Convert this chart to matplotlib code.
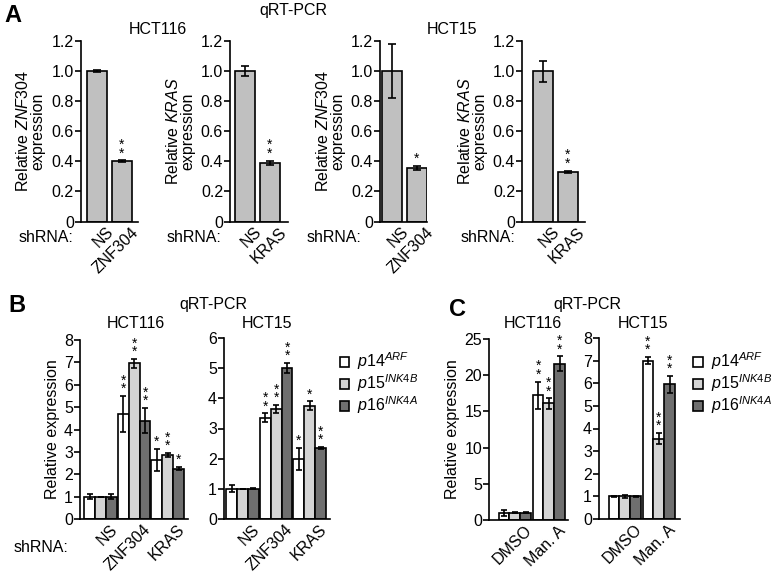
import matplotlib
matplotlib.use("Agg")
import matplotlib.pyplot as plt
import numpy as np

plt.rcParams['font.family'] = ['Liberation Sans', 'DejaVu Sans']
plt.rcParams['mathtext.fontset'] = 'custom'
plt.rcParams['mathtext.rm'] = 'Liberation Sans'
plt.rcParams['mathtext.it'] = 'Liberation Sans:italic'
FS = 11.5
plt.rcParams['font.size'] = FS

# panel A data: NS vs knockdown
a_cats = [['NS', 'ZNF304'], ['NS', 'KRAS'], ['NS', 'ZNF304'], ['NS', 'KRAS']]
a_genes = ['ZNF304', 'KRAS', 'ZNF304', 'KRAS']
a_vals = [[1.0, 0.40], [1.0, 0.39], [1.0, 0.355], [1.0, 0.33]]
a_errs = [[0.006, 0.006], [0.035, 0.015], [0.18, 0.015], [0.07, 0.008]]
a_stars = [['', '*\n*'], ['', '*\n*'], ['', '*'], ['', '*\n*']]

# panel B data: shRNA groups, series p14 / p15 / p16
b_cats = ['NS', 'ZNF304', 'KRAS']
b116_vals = [[1.0, 4.7, 2.65], [1.0, 6.95, 2.85], [1.0, 4.4, 2.25]]
b116_errs = [[0.12, 0.8, 0.5], [0.0, 0.2, 0.1], [0.1, 0.55, 0.07]]
b116_stars = [['', '*\n*', '*'], ['', '*\n*', '*\n*'], ['', '*\n*', '*']]
b15_vals = [[1.0, 3.35, 2.0], [1.0, 3.65, 3.75], [1.0, 5.0, 2.35]]
b15_errs = [[0.12, 0.15, 0.37], [0.01, 0.12, 0.15], [0.02, 0.17, 0.03]]
b15_stars = [['', '*\n*', '*'], ['', '*\n*', '*'], ['', '*\n*', '*\n*']]

# panel C data: DMSO vs Manumycin A
c_cats = ['DMSO', 'Man. A']
c116_vals = [[1.0, 17.2], [1.0, 16.1], [1.0, 21.6]]
c116_errs = [[0.4, 1.9], [0.05, 0.7], [0.05, 1.0]]
c116_stars = [['', '*\n*'], ['', '*\n*'], ['', '*\n*']]
c15_vals = [[1.0, 7.0], [1.0, 3.55], [1.0, 5.95]]
c15_errs = [[0.03, 0.15], [0.05, 0.25], [0.02, 0.38]]
c15_stars = [['', '*\n*'], ['', '*\n*'], ['', '*\n*']]

series_labels = [r'$\mathit{p14}^{\mathit{ARF}}$', r'$\mathit{p15}^{\mathit{INK4B}}$',
                 r'$\mathit{p16}^{\mathit{INK4A}}$']
series_colors = ['white', '#d4d4d4', '#6f6f6f']

W, H = 782, 579
fig = plt.figure(figsize=(W / 100, H / 100), dpi=100)


def px_axes(left, right, top, bottom):
    ax = fig.add_axes([left / W, 1 - bottom / H, (right - left) / W, (bottom - top) / H])
    ax.spines['top'].set_visible(False)
    ax.spines['right'].set_visible(False)
    ax.spines['left'].set_linewidth(1.2)
    ax.spines['bottom'].set_linewidth(1.2)
    ax.tick_params(axis='y', length=4, width=1.2, pad=1, labelsize=FS)
    ax.tick_params(axis='x', length=0, pad=2, labelsize=FS)
    return ax


def ftext(x, y, s, **kw):
    fig.text(x / W, 1 - y / H, s, **kw)


def star(ax, x, top, s, off):
    if s:
        ax.text(x, top + off, s, ha='center', va='bottom', fontsize=10, linespacing=0.5)


def xlabels(ax, cats):
    ax.set_xticks(range(len(cats)))
    ax.set_xticklabels(cats, rotation=45, ha='right', va='top', rotation_mode='anchor')
    for t in ax.get_xticklabels():
        t.set_transform(t.get_transform() + matplotlib.transforms.ScaledTranslation(0.09, 0, fig.dpi_scale_trans))


# ---- panel A ----
a_boxes = [(80.7, 138), (230, 288), (380, 427), (522, 585)]
a_xlims = [(-0.65, 1.64), (-0.6, 1.72), (-0.48, 1.4), (-0.84, 1.68)]
for i in range(4):
    ax = px_axes(a_boxes[i][0], a_boxes[i][1], 41, 221.5)
    x = np.arange(2)
    ax.bar(x, a_vals[i], 0.8, color='#c0c0c0', edgecolor='black', linewidth=1.2)
    ax.errorbar(x, a_vals[i], yerr=a_errs[i], fmt='none', ecolor='black', elinewidth=1.2,
                capsize=3, capthick=1.2)
    for j in range(2):
        star(ax, x[j], a_vals[i][j] + a_errs[i][j], a_stars[i][j], 0.0)
    ax.set_ylim(0, 1.2)
    ax.set_yticks([0, 0.2, 0.4, 0.6, 0.8, 1.0, 1.2])
    ax.set_yticklabels(['0', '0.2', '0.4', '0.6', '0.8', '1.0', '1.2'])
    ax.set_xlim(*a_xlims[i])
    xlabels(ax, a_cats[i])
    ax.set_ylabel('Relative $\\mathit{' + a_genes[i] + '}$\nexpression', fontsize=FS,
                  linespacing=0.95, labelpad=4)

for xr in [73, 221, 361, 515]:
    ftext(xr, 237, 'shRNA:', ha='right', va='center', fontsize=FS)
ftext(13, 15, 'A', fontsize=17, fontweight='bold', ha='center', va='center')
ftext(293, 11, 'qRT-PCR', fontsize=FS, ha='center', va='center')
ftext(158, 30, 'HCT116', fontsize=FS, ha='center', va='center')
ftext(452, 29, 'HCT15', fontsize=FS, ha='center', va='center')


def grouped(ax, cats, vals, errs, stars, width, off, soff):
    x = np.arange(len(cats))
    for k in range(3):
        xs = x + (k - 1) * off
        ax.bar(xs, vals[k], width, color=series_colors[k], edgecolor='black', linewidth=1.2,
               label=series_labels[k])
        e = np.array(errs[k])
        ax.errorbar(xs, vals[k], yerr=e, fmt='none', ecolor='black', elinewidth=1.2,
                    capsize=2.2, capthick=1.2)
        for j in range(len(cats)):
            star(ax, xs[j], vals[k][j] + e[j], stars[k][j], soff)
    xlabels(ax, cats)


def legend(ax, x_anchor):
    ax.legend(loc='upper left', bbox_to_anchor=(x_anchor, 0.93), frameon=False, fontsize=FS,
              handlelength=0.6, handleheight=0.6, handletextpad=0.5, labelspacing=0.02,
              borderpad=0, borderaxespad=0)


# ---- panel B ----
ax = px_axes(80, 188, 340, 519)
grouped(ax, b_cats, b116_vals, b116_errs, b116_stars, 0.32, 0.325, 0.0)
ax.set_ylim(0, 8)
ax.set_yticks(range(9))
ax.set_xlim(-0.61, 2.6)
ax.set_ylabel('Relative expression', fontsize=FS, labelpad=3)

ax = px_axes(224, 330, 338, 519)
grouped(ax, b_cats, b15_vals, b15_errs, b15_stars, 0.32, 0.325, 0.0)
ax.set_ylim(0, 6)
ax.set_yticks(range(7))
ax.set_xlim(-0.55, 2.6)
legend(ax, 1.09)

ftext(68, 547, 'shRNA:', ha='right', va='center', fontsize=FS)
ftext(17, 306, 'B', fontsize=17, fontweight='bold', ha='center', va='center')
ftext(213, 305, 'qRT-PCR', fontsize=FS, ha='center', va='center')
ftext(136, 323, 'HCT116', fontsize=FS, ha='center', va='center')
ftext(267, 323, 'HCT15', fontsize=FS, ha='center', va='center')

# ---- panel C ----
ax = px_axes(489, 568, 339, 520)
grouped(ax, c_cats, c116_vals, c116_errs, c116_stars, 0.32, 0.32, 0.0)
ax.set_ylim(0, 25)
ax.set_yticks(range(0, 26, 5))
ax.set_xlim(-0.76, 1.56)
ax.set_ylabel('Relative expression', fontsize=FS, labelpad=3)

ax = px_axes(599, 680, 338, 519)
grouped(ax, c_cats, c15_vals, c15_errs, c15_stars, 0.32, 0.32, 0.0)
ax.set_ylim(0, 8)
ax.set_yticks(range(9))
ax.set_xlim(-0.76, 1.62)
legend(ax, 1.16)

ftext(457, 310, 'C', fontsize=17, fontweight='bold', ha='center', va='center')
ftext(587, 305, 'qRT-PCR', fontsize=FS, ha='center', va='center')
ftext(533, 323, 'HCT116', fontsize=FS, ha='center', va='center')
ftext(643, 323, 'HCT15', fontsize=FS, ha='center', va='center')

fig.savefig('out.png', dpi=100)
